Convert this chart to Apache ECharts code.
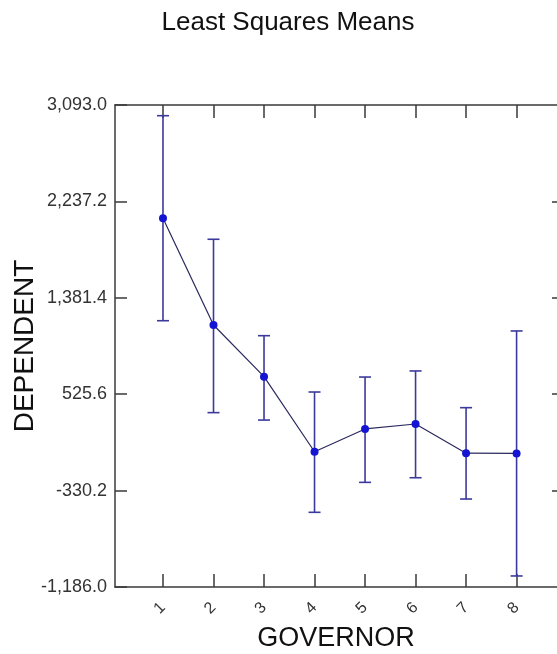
<!DOCTYPE html>
<html>
<head>
<meta charset="utf-8">
<script src="https://cdn.jsdelivr.net/npm/echarts@6/dist/echarts.min.js"></script>
<style>
  html, body { margin: 0; padding: 0; background: #fff; }
  #chart { width: 557px; height: 654px; }
</style>
</head>
<body>
<div id="chart"></div>
<script>
// governor levels and least squares means
const governors = [1, 2, 3, 4, 5, 6, 7, 8];
const means = [2087, 1140, 681, 15, 217, 261, 2, 0];
const upper = [2998, 1901, 1045, 545, 678, 732, 406, 1087];
const lower = [1178, 362, 296, -523, -257, -216, -405, -1088];
const yTicks = [-1186.0, -330.2, 525.6, 1381.4, 2237.2, 3093.0];
const yInnerTicks = [-330.2, 525.6, 1381.4, 2237.2];

const barColor = '#3b3a9c';
const axisColor = '#3a3a3a';

var myChart = echarts.init(document.getElementById('chart'));

const fmt = v => Number(v).toLocaleString('en-US', { minimumFractionDigits: 1, maximumFractionDigits: 1 });

const option = {
    backgroundColor: '#fff',
    animation: false,
    title: {
        text: 'Least Squares Means',
        left: 283,
        top: 5,
        textAlign: 'center',
        textStyle: { fontFamily: 'Arial, Liberation Sans', fontSize: 26, fontWeight: 'normal', color: '#111' }
    },
    grid: { left: 115, top: 105, right: 0, bottom: 67, outerBoundsMode: 'none' },
    xAxis: [
        {
            type: 'value',
            min: 0.05,
            max: 8.8,
            position: 'bottom',
            name: 'GOVERNOR',
            nameLocation: 'middle',
            nameGap: 38,
            nameMoveOverlap: false,
            nameTextStyle: { fontFamily: 'Arial, Liberation Sans', fontSize: 27, color: '#111' },
            axisLine: { onZero: false, lineStyle: { color: axisColor, width: 1.5 } },
            axisTick: { inside: true, length: 13, customValues: governors, lineStyle: { color: axisColor, width: 1.5 } },
            axisLabel: { customValues: governors, rotate: 45, margin: 18, fontFamily: 'Arial, Liberation Sans', fontSize: 16, color: '#333' },
            splitLine: { show: false }
        },
        {
            type: 'value',
            min: 0.05,
            max: 8.8,
            position: 'top',
            axisLine: { onZero: false, lineStyle: { color: axisColor, width: 1.5 } },
            axisTick: { inside: true, length: 13, customValues: governors, lineStyle: { color: axisColor, width: 1.5 } },
            axisLabel: { show: false },
            splitLine: { show: false }
        }
    ],
    yAxis: [
        {
            type: 'value',
            min: -1186.0,
            max: 3093.0,
            position: 'left',
            name: 'DEPENDENT',
            nameLocation: 'middle',
            nameGap: 76,
            nameMoveOverlap: false,
            nameTextStyle: { fontFamily: 'Arial, Liberation Sans', fontSize: 28, color: '#111' },
            axisLine: { show: true, onZero: false, lineStyle: { color: axisColor, width: 1.5 } },
            axisTick: { show: true, inside: true, length: 12, customValues: yTicks, lineStyle: { color: axisColor, width: 1.5 } },
            axisLabel: { customValues: yTicks, formatter: fmt, margin: 8, fontFamily: 'Arial, Liberation Sans', fontSize: 18, color: '#333' },
            splitLine: { show: false }
        },
        {
            type: 'value',
            min: -1186.0,
            max: 3093.0,
            position: 'right',
            axisLine: { show: false, onZero: false },
            axisTick: { show: true, inside: true, length: 5, customValues: yInnerTicks, lineStyle: { color: axisColor, width: 1.5 } },
            axisLabel: { show: false },
            splitLine: { show: false }
        }
    ],
    series: [
        {
            name: 'error',
            type: 'custom',
            xAxisIndex: 0,
            yAxisIndex: 0,
            data: governors.map((g, i) => [g, lower[i], upper[i]]),
            renderItem: function (params, api) {
                const x = api.value(0);
                const lo = api.coord([x, api.value(1)]);
                const hi = api.coord([x, api.value(2)]);
                const half = 6;
                const style = { stroke: barColor, lineWidth: 1.6 };
                return {
                    type: 'group',
                    children: [
                        { type: 'line', shape: { x1: lo[0], y1: lo[1], x2: hi[0], y2: hi[1] }, style: style },
                        { type: 'line', shape: { x1: hi[0] - half, y1: hi[1], x2: hi[0] + half, y2: hi[1] }, style: style },
                        { type: 'line', shape: { x1: lo[0] - half, y1: lo[1], x2: lo[0] + half, y2: lo[1] }, style: style }
                    ]
                };
            },
            z: 2
        },
        {
            name: 'mean',
            type: 'line',
            xAxisIndex: 0,
            yAxisIndex: 0,
            data: governors.map((g, i) => [g, means[i]]),
            symbol: 'circle',
            symbolSize: 8,
            lineStyle: { color: '#2a2a5e', width: 1.2 },
            itemStyle: { color: '#1414d2' },
            z: 3
        }
    ]
};

myChart.setOption(option);
</script>
</body>
</html>
